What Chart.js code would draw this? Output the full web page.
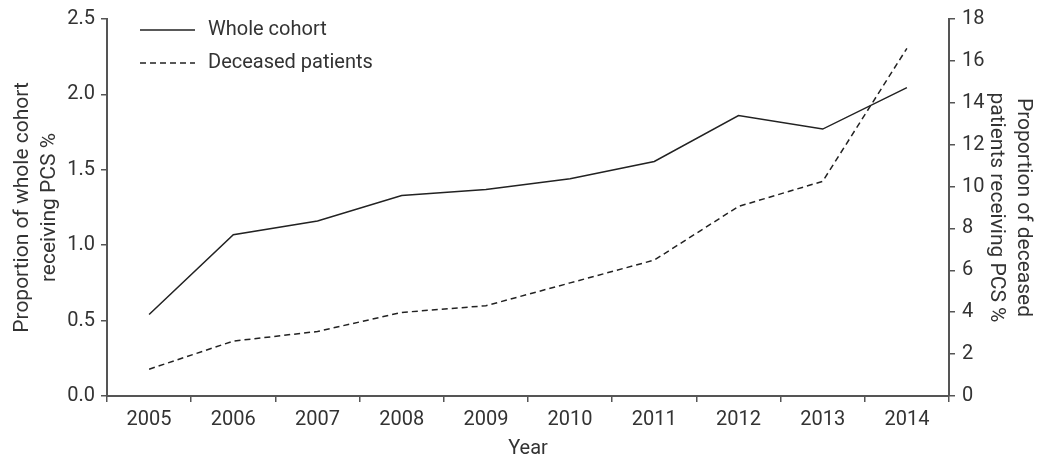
<!DOCTYPE html>
<html>
<head>
<meta charset="utf-8">
<script src="https://cdn.jsdelivr.net/npm/chart.js@4.4.1/dist/chart.umd.min.js"></script>
<style>
html,body{margin:0;padding:0;background:#fff;}
#wrap{width:1049px;height:457px;}
</style>
</head>
<body>
<div id="wrap"><canvas id="c" width="1049" height="457"></canvas></div>
<script>
const years = ['2005','2006','2007','2008','2009','2010','2011','2012','2013','2014'];
const wholeCohort = [0.54, 1.07, 1.16, 1.33, 1.37, 1.44, 1.555, 1.86, 1.77, 2.045];
const deceasedPatients = [1.28, 2.62, 3.08, 3.99, 4.31, 5.4, 6.49, 9.05, 10.25, 16.6];
const seriesLabels = ['Whole cohort', 'Deceased patients'];
const leftTitle = ['Proportion of whole cohort', 'receiving PCS %'];
const rightTitle = ['Proportion of deceased', 'patients receiving PCS %'];
const xTitle = 'Year';

const FONT = 'Roboto, "DejaVu Sans", sans-serif';
const TXT = '#333';
const AX = '#555';

const legendPlugin = {
  id: 'insideLegend',
  afterDraw(chart) {
    const ctx = chart.ctx;
    const a = chart.chartArea;
    ctx.save();
    chart.data.datasets.forEach((ds, i) => {
      const y = a.top + 11 + i * 33;
      const x0 = a.left + 33;
      ctx.strokeStyle = ds.borderColor;
      ctx.lineWidth = ds.borderWidth;
      ctx.setLineDash(ds.borderDash || []);
      ctx.beginPath();
      ctx.moveTo(x0, y);
      ctx.lineTo(x0 + 55, y);
      ctx.stroke();
      ctx.setLineDash([]);
      ctx.fillStyle = TXT;
      ctx.font = '20px ' + FONT;
      ctx.textBaseline = 'middle';
      ctx.textAlign = 'left';
      ctx.fillText(ds.label, x0 + 68, y);
    });
    ctx.restore();
  }
};

const axisCommon = {
  grid: { drawOnChartArea: false, drawTicks: true, tickLength: 6, color: AX, lineWidth: 1.5 },
  border: { display: true, color: AX, width: 2 },
};

new Chart(document.getElementById('c'), {
  type: 'line',
  data: {
    labels: years,
    datasets: [
      { label: seriesLabels[0], data: wholeCohort, yAxisID: 'y', borderColor: '#222', borderWidth: 1.5, pointRadius: 0, tension: 0, fill: false },
      { label: seriesLabels[1], data: deceasedPatients, yAxisID: 'y1', borderColor: '#222', borderWidth: 1.5, borderDash: [6, 4], pointRadius: 0, tension: 0, fill: false }
    ]
  },
  options: {
    responsive: false,
    animation: false,
    layout: { padding: { top: 17, left: 0, right: 0, bottom: 0 } },
    plugins: { legend: { display: false }, tooltip: { enabled: false } },
    scales: {
      x: {
        ...axisCommon,
        offset: true,
        grid: { ...axisCommon.grid, offset: true },
        ticks: { color: TXT, font: { family: FONT, size: 20 }, padding: 6, maxRotation: 0 },
        title: { display: true, text: xTitle, color: TXT, font: { family: FONT, size: 20, lineHeight: 0.8 }, padding: { top: 3, bottom: 0 } }
      },
      y: {
        ...axisCommon,
        position: 'left',
        min: 0, max: 2.5,
        ticks: { stepSize: 0.5, color: TXT, font: { family: FONT, size: 20 }, padding: 6, callback: v => v.toFixed(1) },
        title: { display: true, text: leftTitle, color: TXT, font: { family: FONT, size: 21, lineHeight: 1.3 }, padding: { top: 9, bottom: 0 } },
        afterFit(s) { s.width = 107; }
      },
      y1: {
        ...axisCommon,
        position: 'right',
        min: 0, max: 18,
        ticks: { stepSize: 2, color: TXT, font: { family: FONT, size: 20 }, padding: 7 },
        title: { display: true, text: rightTitle, color: TXT, font: { family: FONT, size: 21, lineHeight: 1.3 }, padding: { top: 12, bottom: 0 } },
        afterFit(s) { s.width = 100; }
      }
    }
  },
  plugins: [legendPlugin]
});
</script>
</body>
</html>
